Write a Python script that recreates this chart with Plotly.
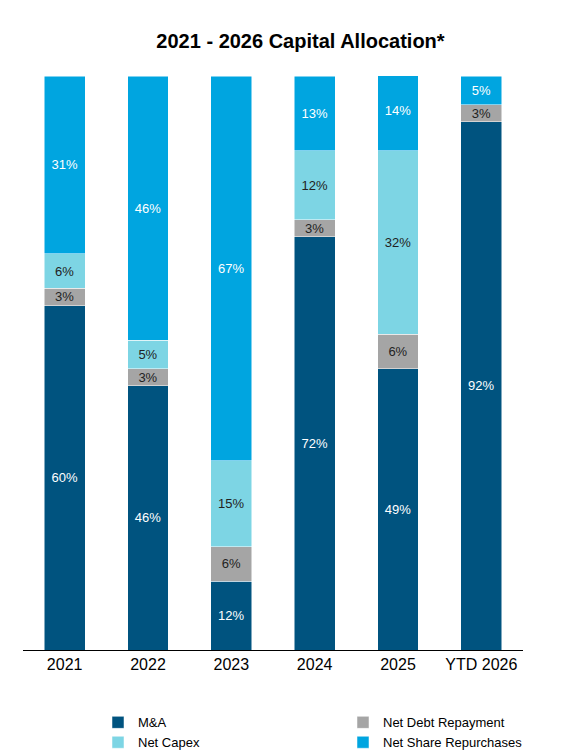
import plotly.graph_objects as go

years = ["2021", "2022", "2023", "2024", "2025", "YTD 2026"]
ma = [60, 46, 12, 72, 49, 92]
debt = [3, 3, 6, 3, 6, 3]
capex = [6, 5, 15, 12, 32, 0]
repurchases = [31, 46, 67, 13, 14, 5]

series = [
    ("M&A", ma, "#00537F", "white"),
    ("Net Debt Repayment", debt, "#A5A5A5", "#222222"),
    ("Net Capex", capex, "#7DD5E4", "#222222"),
    ("Net Share Repurchases", repurchases, "#00A5E0", "white"),
]

fig = go.Figure()
for name, vals, color, tcolor in series:
    fig.add_trace(go.Bar(
        x=years, y=vals, name=name, marker_color=color, width=0.49,
        text=[f"{v}%" if v else "" for v in vals], textposition="inside",
        insidetextanchor="middle", textangle=0, constraintext="none",
        textfont=dict(color=tcolor, size=13, family="Arial"),
    ))

fig.update_layout(
    barmode="stack", template="plotly_white", width=585, height=754,
    title=dict(text="<b>2021 - 2026 Capital Allocation*</b>", x=0.5, y=0.965,
               font=dict(size=20, color="black", family="Arial")),
    font=dict(family="Arial", color="black"),
    margin=dict(l=15, r=5, t=68, b=109),
    plot_bgcolor="white", paper_bgcolor="white",
    legend=dict(orientation="h", x=0.15, y=-0.1, xanchor="left", yanchor="top",
                entrywidth=200, traceorder="normal", font=dict(size=13),
                tracegroupgap=0),
    xaxis=dict(showline=True, linecolor="black", linewidth=1, ticks="",
               tickfont=dict(size=16), showgrid=False),
    yaxis=dict(visible=False, range=[0, 100], showgrid=False),
)

fig.write_html("out.html")
